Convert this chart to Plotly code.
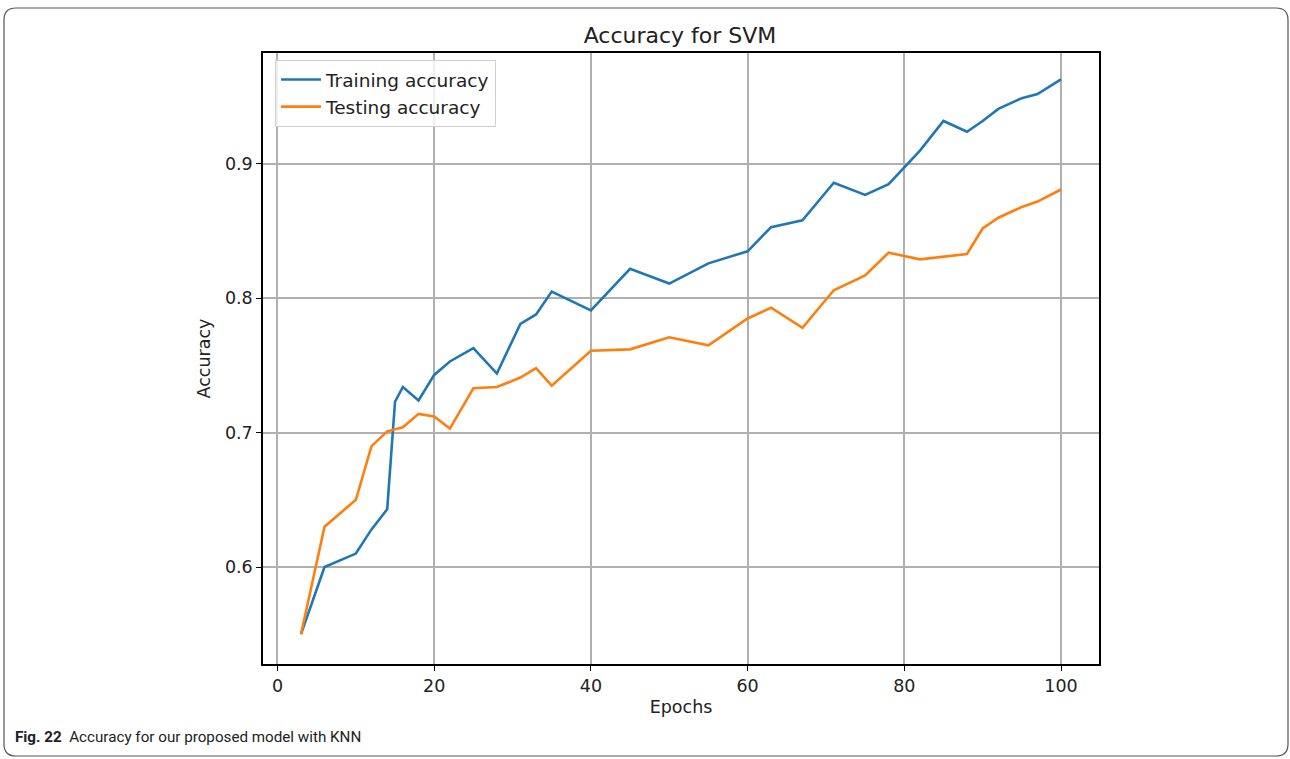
import plotly.graph_objects as go

epochs = [3, 6, 10, 12, 14, 15, 16, 18, 20, 22, 25, 28, 31, 33, 35, 40, 45, 50, 55, 60,
          63, 67, 71, 75, 78, 82, 85, 88, 90, 92, 95, 97, 100]
train_acc = [0.550, 0.600, 0.610, 0.628, 0.643, 0.723, 0.734, 0.724, 0.743, 0.753, 0.763,
             0.744, 0.781, 0.788, 0.805, 0.791, 0.822, 0.811, 0.826, 0.835,
             0.853, 0.858, 0.886, 0.877, 0.885, 0.910, 0.932, 0.924, 0.932, 0.941, 0.949, 0.952, 0.963]
test_acc = [0.550, 0.630, 0.650, 0.690, 0.701, 0.7025, 0.704, 0.714, 0.712, 0.703, 0.733,
            0.734, 0.741, 0.748, 0.735, 0.761, 0.762, 0.771, 0.765, 0.785,
            0.793, 0.778, 0.806, 0.817, 0.834, 0.829, 0.831, 0.833, 0.852, 0.860, 0.868, 0.872, 0.881]

title_text = "Accuracy for SVM"
x_title = "Epochs"
y_title = "Accuracy"
legend_names = ["Training accuracy", "Testing accuracy"]
caption_bold = "Fig. 22"
caption_text = "Accuracy for our proposed model with KNN"

FONT = "DejaVu Sans"
W, H = 1290, 759
L, R, T, B = 263, 1099, 53, 664
pw, ph = R - L, B - T

def px(x):
    return (x - L) / pw

def py(y):
    return (B - y) / ph

fig = go.Figure()
fig.add_trace(go.Scatter(x=epochs, y=train_acc, mode="lines", name=legend_names[0],
                         line=dict(color="#1f77b4", width=2.6)))
fig.add_trace(go.Scatter(x=epochs, y=test_acc, mode="lines", name=legend_names[1],
                         line=dict(color="#ff7f0e", width=2.6)))

axis_common = dict(showline=True, linecolor="black", linewidth=1.5, mirror=True,
                   showgrid=True, gridcolor="#b0b0b0", gridwidth=1.5,
                   ticks="outside", ticklen=5, tickcolor="black", tickwidth=1.3,
                   zeroline=False, tickfont=dict(family=FONT, size=17.5, color="#222"))

fig.update_xaxes(range=[-1.85, 104.85], tickvals=[0, 20, 40, 60, 80, 100],
                 title=dict(text=x_title, font=dict(family=FONT, size=17.5, color="#222"), standoff=6),
                 **axis_common)
fig.update_yaxes(range=[0.5278, 0.9826], tickvals=[0.6, 0.7, 0.8, 0.9],
                 ticktext=["0.6", "0.7", "0.8", "0.9"],
                 title=dict(text=y_title, font=dict(family=FONT, size=17.5, color="#222"), standoff=10),
                 **axis_common)

# rounded outer frame
x0, x1 = px(4), px(1288)
y0, y1 = py(756), py(8)
rx, ry = 12 / pw, 12 / ph
path = (f"M {x0+rx},{y1} L {x1-rx},{y1} Q {x1},{y1} {x1},{y1-ry} "
        f"L {x1},{y0+ry} Q {x1},{y0} {x1-rx},{y0} L {x0+rx},{y0} Q {x0},{y0} {x0},{y0+ry} "
        f"L {x0},{y1-ry} Q {x0},{y1} {x0+rx},{y1} Z")
fig.add_shape(type="path", path=path, xref="paper", yref="paper",
              line=dict(color="#555", width=1.2), layer="below")

fig.add_annotation(x=px(13), y=py(737), xref="paper", yref="paper", xanchor="left", yanchor="middle",
                   text=f"<b>{caption_bold}</b>  {caption_text}", showarrow=False,
                   font=dict(family="Roboto", size=15.2, color="#222"))

fig.update_layout(
    width=W, height=H,
    margin=dict(l=L, r=W - R, t=T, b=H - B),
    paper_bgcolor="white", plot_bgcolor="white",
    title=dict(text=title_text, x=px(680), xanchor="center", y=1 - 35 / H, yanchor="middle",
               xref="paper", font=dict(family=FONT, size=22, color="#222")),
    showlegend=True,
    legend=dict(x=px(275), y=py(60), xanchor="left", yanchor="top",
                bgcolor="rgba(255,255,255,0.8)", bordercolor="#d0d0d0", borderwidth=1,
                font=dict(family=FONT, size=18.5, color="#222"), tracegroupgap=0,
                itemwidth=40),
)

fig.write_html("out.html", config={"displayModeBar": False},
               post_script="document.body.style.margin='0';document.body.style.overflow='hidden';")
